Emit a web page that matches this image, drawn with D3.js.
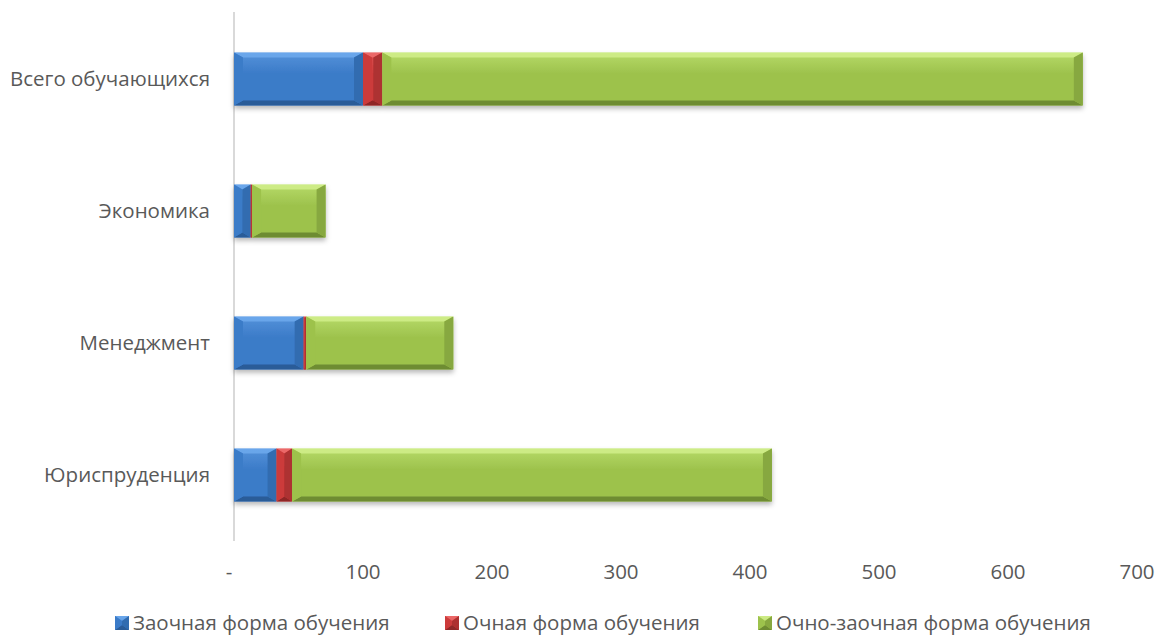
<!DOCTYPE html>
<html>
<head>
<meta charset="utf-8">
<script src="https://cdn.jsdelivr.net/npm/d3@7"></script>
<style>
  body { margin: 0; background: #fff; }
  text { font-family: "Open Sans", sans-serif; fill: #595959; }
</style>
</head>
<body>
<div id="chart"></div>
<script>
// categories, bottom to top as in the picture
var categories = ['Юриспруденция', 'Менеджмент', 'Экономика', 'Всего обучающихся'];
var seriesNames = ['Заочная форма обучения', 'Очная форма обучения', 'Очно-заочная форма обучения'];
var zaochnaya = [33, 54, 13, 100];
var ochnaya = [12, 2, 1, 15];
var ochnoZaochnaya = [372, 114, 57, 543];
var xTicks = [0, 100, 200, 300, 400, 500, 600, 700];

var width = 1158, height = 636;
var fontSize = 20.5;

// shades per series
var palette = [
  { mid: '#3b7bc8', light: '#72aef0', top: '#5592da', dark: '#2a5c98', side: '#316cb0' },
  { mid: '#cc3b3b', light: '#f07070', top: '#dc5050', dark: '#8f2828', side: '#ad3030' },
  { mid: '#9dc24c', light: '#d6f290', top: '#b6da68', dark: '#6e8c32', side: '#87a83f' }
];

var rows = categories.map(function(c, i){
  return { cat: c, s0: zaochnaya[i], s1: ochnaya[i], s2: ochnoZaochnaya[i] };
});
var stack = d3.stack().keys(['s0', 's1', 's2']);
var layers = stack(rows);

var svg = d3.select('#chart')
  .append('svg')
  .attr('width', width)
  .attr('height', height);

var defs = svg.append('defs');
var shadow = defs.append('filter').attr('id', 'shadow')
  .attr('x', '-5%').attr('y', '-20%').attr('width', '110%').attr('height', '150%');
shadow.append('feDropShadow')
  .attr('dx', 0).attr('dy', 3).attr('stdDeviation', 2.5)
  .attr('flood-color', '#000').attr('flood-opacity', 0.28);

palette.forEach(function(p, i){
  var g = defs.append('linearGradient').attr('id', 'grad' + i)
    .attr('x1', 0).attr('y1', 0).attr('x2', 0).attr('y2', 1);
  g.append('stop').attr('offset', '0%').attr('stop-color', p.top);
  g.append('stop').attr('offset', '40%').attr('stop-color', p.mid);
  g.append('stop').attr('offset', '100%').attr('stop-color', p.mid);
});

var x = d3.scaleLinear().domain([0, 700]).range([234, 1137]);
var y = d3.scaleBand()
  .domain(categories.slice().reverse())
  .range([13, 541])
  .paddingInner(0.6)
  .paddingOuter(0.3);

// vertical category axis line
svg.append('line')
  .attr('x1', x(0)).attr('x2', x(0))
  .attr('y1', 12).attr('y2', 541)
  .attr('stroke', '#d9d9d9').attr('stroke-width', 2);

// category labels
svg.selectAll('.cat')
  .data(categories)
  .enter()
  .append('text')
  .attr('class', 'cat')
  .attr('x', 210)
  .attr('y', function(d){ return y(d) + y.bandwidth() / 2; })
  .attr('dy', '0.35em')
  .attr('text-anchor', 'end')
  .style('font-size', fontSize + 'px')
  .text(function(d){ return d; });

// value tick labels (zero shown as a dash)
svg.selectAll('.tick-label')
  .data(xTicks)
  .enter()
  .append('text')
  .attr('class', 'tick-label')
  .attr('x', function(d){ return d === 0 ? x(d) - 5 : x(d); })
  .attr('y', 572)
  .attr('dy', '0.35em')
  .attr('text-anchor', 'middle')
  .style('font-size', fontSize + 'px')
  .text(function(d){ return d === 0 ? '-' : d; });

// bevelled segment
function drawBevel(g, x0, y0, w, h, p, gi){
  var b = Math.min(5, w / 2), bs = Math.min(9, w / 2);
  var x1 = x0 + w, y1 = y0 + h;
  g.append('rect')
    .attr('x', x0).attr('y', y0).attr('width', w).attr('height', h)
    .attr('fill', 'url(#grad' + gi + ')');
  // top
  g.append('polygon')
    .attr('points', [[x0, y0], [x1, y0], [x1 - bs, y0 + b], [x0 + bs, y0 + b]].join(' '))
    .attr('fill', p.light).attr('opacity', 0.75);
  // bottom
  g.append('polygon')
    .attr('points', [[x0, y1], [x1, y1], [x1 - bs, y1 - b], [x0 + bs, y1 - b]].join(' '))
    .attr('fill', p.dark);
  // left
  g.append('polygon')
    .attr('points', [[x0, y0], [x0 + bs, y0 + b], [x0 + bs, y1 - b], [x0, y1]].join(' '))
    .attr('fill', p.mid);
  // right
  g.append('polygon')
    .attr('points', [[x1, y0], [x1 - bs, y0 + b], [x1 - bs, y1 - b], [x1, y1]].join(' '))
    .attr('fill', p.side);
}

var barsG = svg.append('g').attr('filter', 'url(#shadow)');

layers.forEach(function(layer, li){
  layer.forEach(function(d){
    var w = x(d[1]) - x(d[0]);
    if(w <= 0) return;
    var g = barsG.append('g');
    drawBevel(g, x(d[0]), y(d.data.cat), w, y.bandwidth(), palette[li], li);
  });
});

// legend
var legendX = [115, 445, 758];
var legend = svg.selectAll('.legend')
  .data(seriesNames)
  .enter()
  .append('g')
  .attr('class', 'legend')
  .attr('transform', function(d, i){ return 'translate(' + legendX[i] + ',623)'; });

legend.each(function(d, i){
  var g = d3.select(this);
  var m = g.append('g');
  drawBevel(m, 0, -7, 14, 14, palette[i], i);
  g.append('text')
    .attr('x', 18)
    .attr('dy', '0.35em')
    .style('font-size', fontSize + 'px')
    .text(d);
});
</script>
</body>
</html>
